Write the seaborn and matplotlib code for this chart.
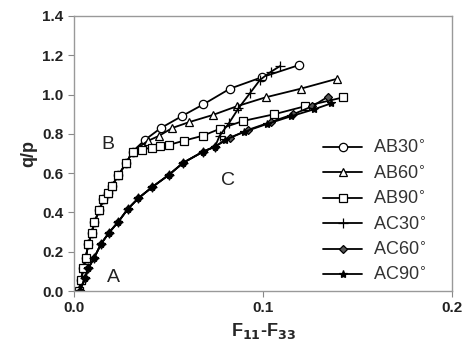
import numpy as np
import pandas as pd
import seaborn as sns
import matplotlib.pyplot as plt

# shared loading path O -> B for the AB tests
ab_x0 = [0.0025, 0.0037, 0.0050, 0.0062, 0.0076, 0.0094, 0.0107, 0.0134,
         0.0155, 0.0180, 0.0200, 0.0235, 0.0275, 0.0310]
ab_y0 = [0.000, 0.056, 0.115, 0.170, 0.240, 0.297, 0.350, 0.410,
         0.467, 0.500, 0.535, 0.590, 0.650, 0.710]

ab30_x = [0.0376, 0.046, 0.057, 0.0684, 0.0825, 0.0993, 0.119]
ab30_y = [0.770, 0.830, 0.890, 0.950, 1.030, 1.088, 1.150]
ab60_x = [0.039, 0.045, 0.052, 0.061, 0.0734, 0.086, 0.1014, 0.120, 0.139]
ab60_y = [0.764, 0.790, 0.830, 0.860, 0.896, 0.940, 0.986, 1.030, 1.080]
ab90_x = [0.0358, 0.041, 0.0455, 0.050, 0.058, 0.068, 0.077, 0.0896, 0.106, 0.122, 0.1425]
ab90_y = [0.720, 0.730, 0.738, 0.743, 0.765, 0.790, 0.825, 0.866, 0.900, 0.940, 0.986]

# shared loading path O -> C for the AC tests
ac_x0 = [0.0030, 0.0058, 0.0076, 0.0107, 0.0143, 0.0185, 0.0235, 0.0284,
         0.0340, 0.0415, 0.0500, 0.0578, 0.0684, 0.0746]
ac_y0 = [0.000, 0.065, 0.116, 0.170, 0.240, 0.297, 0.353, 0.417,
         0.472, 0.530, 0.590, 0.653, 0.710, 0.735]

ac30_x = [0.077, 0.082, 0.087, 0.093, 0.0984, 0.104, 0.109]
ac30_y = [0.790, 0.855, 0.930, 1.006, 1.075, 1.115, 1.145]
ac60_x = [0.0825, 0.092, 0.104, 0.116, 0.126, 0.1345]
ac60_y = [0.780, 0.820, 0.860, 0.900, 0.940, 0.990]
ac90_x = [0.080, 0.090, 0.102, 0.115, 0.127, 0.136]
ac90_y = [0.770, 0.810, 0.850, 0.890, 0.925, 0.955]

labels = ["AB30$^{\\circ}$", "AB60$^{\\circ}$", "AB90$^{\\circ}$",
          "AC30$^{\\circ}$", "AC60$^{\\circ}$", "AC90$^{\\circ}$"]

series = [
    (ab_x0 + ab30_x, ab_y0 + ab30_y, "o", "white", 6),
    (ab_x0 + ab60_x, ab_y0 + ab60_y, "^", "white", 6),
    (ab_x0 + ab90_x, ab_y0 + ab90_y, "s", "white", 5.5),
    (ac_x0 + ac30_x, ac_y0 + ac30_y, "+", "black", 7),
    (ac_x0 + ac60_x, ac_y0 + ac60_y, "D", "#555555", 4),
    (ac_x0 + ac90_x, ac_y0 + ac90_y, "*", "black", 6),
]

sns.set_style("ticks")
plt.rcParams['font.family'] = ['Liberation Sans', 'DejaVu Sans']

fig = plt.figure(figsize=(4.67, 3.53), dpi=100)
ax = fig.add_axes([0.1585, 0.1756, 0.8095, 0.7791])

for (xs, ys, mk, fc, ms), lab in zip(series, labels):
    df = pd.DataFrame({"x": xs, "y": ys})
    sns.lineplot(data=df, x="x", y="y", ax=ax, sort=False, color="black",
                 lw=1.3, marker=mk, markersize=ms, markerfacecolor=fc,
                 markeredgecolor="black", markeredgewidth=0.9, label=lab)

ax.set_xlim(0, 0.2)
ax.set_ylim(0, 1.4)
ax.set_xticks([0.0, 0.1, 0.2])
ax.set_yticks(np.arange(0, 1.41, 0.2))
ax.set_xticklabels(["0.0", "0.1", "0.2"])
ax.set_yticklabels([f"{v:.1f}" for v in np.arange(0, 1.41, 0.2)])
for lbl in ax.get_xticklabels() + ax.get_yticklabels():
    lbl.set_fontweight("bold")
    lbl.set_fontsize(11)
    lbl.set_color("#222222")
ax.tick_params(direction="out", length=4, color="#888888")
for sp in ax.spines.values():
    sp.set_visible(True)
    sp.set_color("#999999")
    sp.set_linewidth(1.0)

ax.set_xlabel("F$_{\\mathbf{11}}$-F$_{\\mathbf{33}}$", fontsize=13, fontweight="bold")
ax.set_ylabel("q/p", fontsize=13, fontweight="bold")

ax.text(0.0175, 0.045, "A", fontsize=14, color="#222222")
ax.text(0.0145, 0.725, "B", fontsize=14, color="#222222")
ax.text(0.0775, 0.54, "C", fontsize=14, color="#222222")

leg = ax.legend(loc="lower right", frameon=False, fontsize=13,
                handlelength=2.2, labelspacing=0.45, handletextpad=0.6,
                bbox_to_anchor=(0.975, -0.035))
for t in leg.get_texts():
    t.set_color("#333333")

fig.savefig("out.png", dpi=100)
